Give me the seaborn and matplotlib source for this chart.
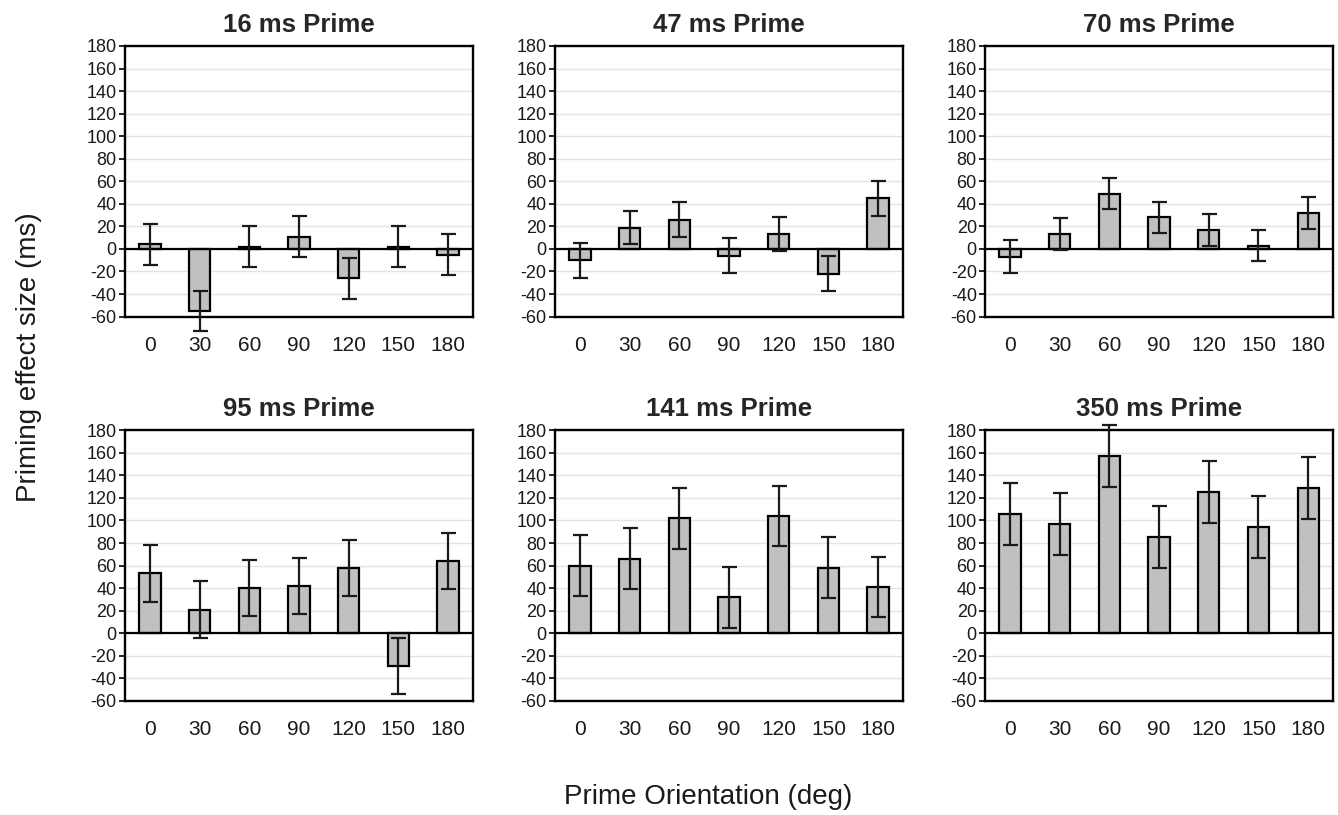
import numpy as np
import pandas as pd
import matplotlib
matplotlib.use("Agg")
import matplotlib.pyplot as plt
import seaborn as sns

# --- data ---
orientations = ["0", "30", "60", "90", "120", "150", "180"]
prime_titles = ["16 ms Prime", "47 ms Prime", "70 ms Prime",
                "95 ms Prime", "141 ms Prime", "350 ms Prime"]

effect_16 = [4, -55, 2, 11, -26, 2, -5]
err_16 = [18, 18, 18, 18, 18, 18, 18]
effect_47 = [-10, 19, 26, -6, 13, -22, 45]
err_47 = [15.5, 15, 15.5, 15.5, 15, 15.5, 15.5]
effect_70 = [-7, 13, 49, 28, 17, 3, 32]
err_70 = [14.5, 14, 14, 14, 14, 14, 14.5]
effect_95 = [53, 21, 40, 42, 58, -29, 64]
err_95 = [25, 25, 25, 25, 25, 25, 25]
effect_141 = [60, 66, 102, 32, 104, 58, 41]
err_141 = [27, 27, 27, 27, 27, 27, 27]
effect_350 = [106, 97, 157, 85, 125, 94, 129]
err_350 = [27.5, 27.5, 27.5, 27.5, 27.5, 27.5, 27.5]

effects = [effect_16, effect_47, effect_70, effect_95, effect_141, effect_350]
errors = [err_16, err_47, err_70, err_95, err_141, err_350]

yticks = list(range(-60, 181, 20))

sns.set_style("white")
plt.rcParams['font.family'] = ['Liberation Sans', 'DejaVu Sans']
plt.rcParams['axes.unicode_minus'] = False

fig, axes = plt.subplots(2, 3, figsize=(13.38, 8.15), dpi=100)
fig.subplots_adjust(left=0.0934, right=0.9963, top=0.9436, bottom=0.140,
                    wspace=0.236, hspace=0.42)

for ax, title, vals, errs in zip(axes.flat, prime_titles, effects, errors):
    df = pd.DataFrame({'orientation': orientations, 'effect': vals, 'err': errs})
    ax.set_axisbelow(True)
    for yv in yticks:
        ax.axhline(yv, color='#e3e3e3', lw=1, zorder=0)
    sns.barplot(data=df, x='orientation', y='effect', order=orientations,
                color='#c0c0c0', edgecolor='black', linewidth=1.6,
                width=0.43, errorbar=None, saturation=1, ax=ax, zorder=2)
    ax.axhline(0, color='black', lw=1.6, zorder=3)
    ax.errorbar(x=np.arange(len(df)), y=df['effect'], yerr=df['err'],
                fmt='none', ecolor='#1a1a1a', elinewidth=1.6, capsize=5.4,
                capthick=1.6, zorder=4, clip_on=False)
    ax.set_ylim(-60, 180)
    ax.set_yticks(yticks)
    ax.set_xlim(-0.5, len(orientations) - 0.5)
    ax.set_title(title, fontsize=18.5, fontweight='bold', pad=10)
    ax.set_xlabel('')
    ax.set_ylabel('')
    for sp in ax.spines.values():
        sp.set_color('black')
        sp.set_linewidth(1.7)
    ax.tick_params(axis='y', left=True, length=4, width=1.2, pad=2,
                   labelsize=13, color='black', labelcolor='#1a1a1a')
    ax.tick_params(axis='x', bottom=False, length=0, pad=14, labelsize=15,
                   labelcolor='#1a1a1a')

fig.supylabel('Priming effect size (ms)', x=0.012, y=0.562, fontsize=20,
              color='#1a1a1a')
fig.supxlabel('Prime Orientation (deg)', x=0.529, y=0.006, fontsize=20,
              color='#1a1a1a')

fig.savefig('out.png', dpi=100)
